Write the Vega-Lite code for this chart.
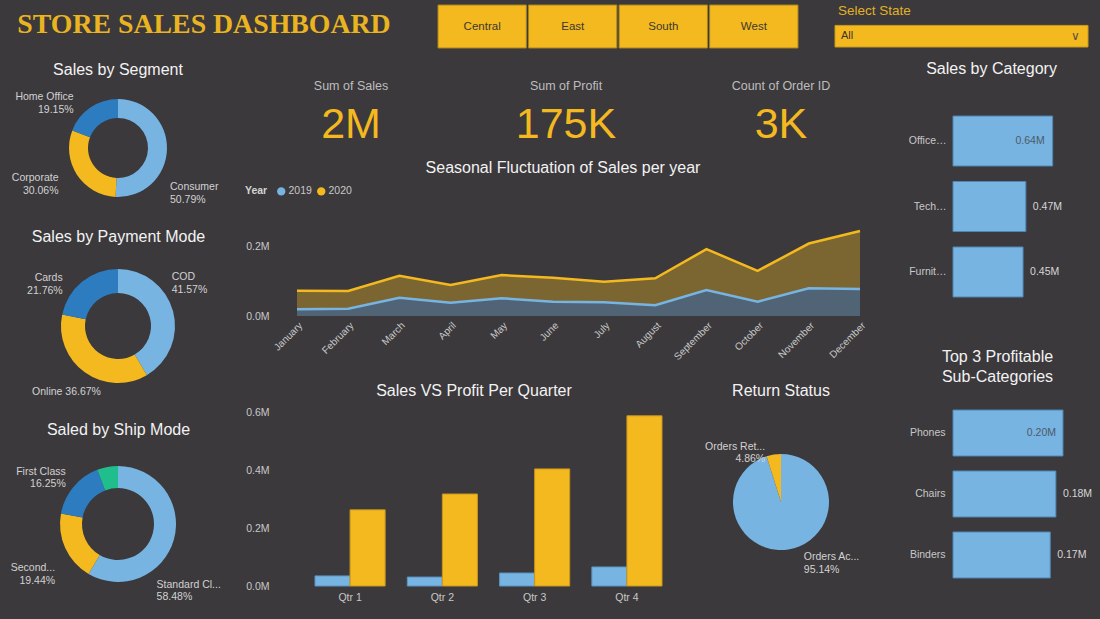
{
  "$schema": "https://vega.github.io/schema/vega-lite/v6.json",
  "width": 1100,
  "height": 619,
  "padding": 0,
  "autosize": {"type": "none"},
  "background": "#3b393c",
  "config": {
    "view": {"stroke": null},
    "font": "Liberation Sans",
    "axis": {"domain": false, "ticks": false, "grid": false, "labelColor": "#c8c8c8", "labelFont": "Liberation Sans", "labelFontSize": 10.5}
  },
  "resolve": {
    "scale": {"x": "independent", "y": "independent", "color": "independent", "theta": "independent", "xOffset": "independent", "stroke": "independent"},
    "axis": {"x": "independent", "y": "independent"},
    "legend": {"color": "independent"}
  },
  "layer": [
    {
      "data": {"values": [{"title": "STORE SALES DASHBOARD"}]},
      "mark": {"type": "text", "font": "Liberation Serif", "fontWeight": "bold", "fontSize": 27.8, "color": "#eab420", "baseline": "middle"},
      "encoding": {
        "x": {"field": "title", "type": "nominal", "scale": {"type": "point", "range": [0, 408]}, "axis": null},
        "y": {"field": "title", "type": "nominal", "scale": {"type": "point", "range": [25, 25]}, "axis": null},
        "text": {"field": "title"}
      }
    },
    {
      "data": {"values": [{"region": "Central"}, {"region": "East"}, {"region": "South"}, {"region": "West"}]},
      "encoding": {
        "x": {"field": "region", "type": "nominal", "sort": null, "scale": {"type": "band", "range": [438, 798], "paddingInner": 0.025, "paddingOuter": 0}, "axis": null},
        "y": {"datum": "Region", "type": "nominal", "scale": {"type": "band", "range": [5, 48], "paddingInner": 0, "paddingOuter": 0}, "axis": null}
      },
      "layer": [
        {"mark": {"type": "rect", "color": "#f4b91f", "stroke": "#a8841c", "strokeWidth": 1}, "encoding": {}},
        {"mark": {"type": "text", "color": "#3c382f", "fontSize": 11.5, "baseline": "middle"}, "encoding": {"text": {"field": "region"}}}
      ]
    },
    {
      "data": {"values": [{"label": "Select State", "choice": "All"}]},
      "encoding": {
        "x": {"datum": "State", "type": "nominal", "scale": {"type": "band", "range": [835, 1088], "paddingInner": 0, "paddingOuter": 0}, "axis": null}
      },
      "layer": [
        {
          "mark": {"type": "rect", "color": "#f4b91f", "stroke": "#c99a1c", "strokeWidth": 1},
          "encoding": {"y": {"datum": "All", "type": "nominal", "scale": {"type": "band", "domain": ["Select State", "All"], "range": [0, 47], "paddingInner": 0.15, "paddingOuter": 0}, "axis": null}}
        },
        {
          "mark": {"type": "text", "align": "left", "baseline": "middle", "dx": 3, "fontSize": 13.5, "color": "#e2b125"},
          "encoding": {"x": {"datum": "State", "type": "nominal", "bandPosition": 0}, "y": {"datum": "Select State", "type": "nominal"}, "text": {"field": "label"}}
        },
        {
          "mark": {"type": "text", "align": "left", "baseline": "middle", "dx": 6, "fontSize": 11, "color": "#3a3630"},
          "encoding": {"x": {"datum": "State", "type": "nominal", "bandPosition": 0}, "y": {"datum": "All", "type": "nominal"}, "text": {"field": "choice"}}
        },
        {
          "mark": {"type": "text", "align": "right", "baseline": "middle", "dx": -8, "fontSize": 12, "color": "#5a5240"},
          "encoding": {"x": {"datum": "State", "type": "nominal", "bandPosition": 1}, "y": {"datum": "All", "type": "nominal"}, "text": {"value": "∨"}}
        }
      ]
    },
    {
      "data": {"values": [
        {"metric": "Sum of Sales", "shown": "2M"},
        {"metric": "Sum of Profit", "shown": "175K"},
        {"metric": "Count of Order ID", "shown": "3K"}
      ]},
      "encoding": {
        "x": {"field": "metric", "type": "nominal", "sort": null, "scale": {"type": "point", "range": [351, 781], "padding": 0}, "axis": null}
      },
      "layer": [
        {
          "mark": {"type": "text", "fontSize": 12.5, "color": "#bdbdbd", "baseline": "middle"},
          "encoding": {
            "y": {"datum": "label", "type": "nominal", "scale": {"type": "point", "domain": ["label", "value"], "range": [86, 125], "padding": 0}, "axis": null},
            "text": {"field": "metric"}
          }
        },
        {
          "mark": {"type": "text", "font": "Liberation Sans", "fontSize": 43, "color": "#f4b91f", "baseline": "middle"},
          "encoding": {"y": {"datum": "value", "type": "nominal"}, "text": {"field": "shown"}}
        }
      ]
    },
    {
      "data": {"values": [
        {"month": "January", "year": "2019", "sales": 19000}, {"month": "January", "year": "2020", "sales": 53300},
        {"month": "February", "year": "2019", "sales": 21000}, {"month": "February", "year": "2020", "sales": 50400},
        {"month": "March", "year": "2019", "sales": 52000}, {"month": "March", "year": "2020", "sales": 63000},
        {"month": "April", "year": "2019", "sales": 38000}, {"month": "April", "year": "2020", "sales": 50600},
        {"month": "May", "year": "2019", "sales": 50500}, {"month": "May", "year": "2020", "sales": 66500},
        {"month": "June", "year": "2019", "sales": 41000}, {"month": "June", "year": "2020", "sales": 68000},
        {"month": "July", "year": "2019", "sales": 39000}, {"month": "July", "year": "2020", "sales": 59000},
        {"month": "August", "year": "2019", "sales": 31000}, {"month": "August", "year": "2020", "sales": 76600},
        {"month": "September", "year": "2019", "sales": 74000}, {"month": "September", "year": "2020", "sales": 117000},
        {"month": "October", "year": "2019", "sales": 41000}, {"month": "October", "year": "2020", "sales": 88000},
        {"month": "November", "year": "2019", "sales": 79000}, {"month": "November", "year": "2020", "sales": 128000},
        {"month": "December", "year": "2019", "sales": 77000}, {"month": "December", "year": "2020", "sales": 166000}
      ]},
      "mark": {"type": "area", "fillOpacity": 0.35, "line": {"strokeWidth": 2.5}},
      "encoding": {
        "x": {
          "field": "month", "type": "ordinal",
          "sort": ["January", "February", "March", "April", "May", "June", "July", "August", "September", "October", "November", "December"],
          "scale": {"type": "point", "range": [297, 860], "padding": 0},
          "axis": {"orient": "bottom", "offset": -303, "labelAngle": -45, "labelPadding": 4, "labelFontSize": 10, "title": null}
        },
        "y": {
          "field": "sales", "type": "quantitative", "stack": "zero",
          "scale": {"domain": [0, 300000], "range": [316, 211], "nice": false},
          "axis": {"orient": "left", "offset": -297, "values": [0, 200000], "labelExpr": "format(datum.value / 1000000, '.1f') + 'M'", "labelPadding": 28, "title": null}
        },
        "color": {
          "field": "year", "type": "nominal",
          "scale": {"domain": ["2019", "2020"], "range": ["#77b4e2", "#f4b91f"]},
          "legend": {
            "orient": "none", "legendX": 245, "legendY": 186, "direction": "horizontal",
            "title": "Year", "titleOrient": "left", "titleFontWeight": "bold", "titleColor": "#d4d4d4", "titleFontSize": 10.5, "titlePadding": 8,
            "labelColor": "#c8c8c8", "labelFontSize": 10.5, "labelOffset": 2, "columnPadding": 4,
            "symbolType": "circle", "symbolSize": 70, "symbolOpacity": 1, "symbolStrokeWidth": 0
          }
        },
        "order": {"field": "year", "type": "nominal", "sort": "ascending"}
      }
    },
    {
      "data": {"values": [
        {"quarter": "Qtr 1", "measure": "Profit", "amount": 35000}, {"quarter": "Qtr 1", "measure": "Sales", "amount": 264000},
        {"quarter": "Qtr 2", "measure": "Profit", "amount": 31000}, {"quarter": "Qtr 2", "measure": "Sales", "amount": 319000},
        {"quarter": "Qtr 3", "measure": "Profit", "amount": 45000}, {"quarter": "Qtr 3", "measure": "Sales", "amount": 406000},
        {"quarter": "Qtr 4", "measure": "Profit", "amount": 66000}, {"quarter": "Qtr 4", "measure": "Sales", "amount": 590000}
      ]},
      "mark": {"type": "bar", "strokeWidth": 1},
      "encoding": {
        "x": {
          "field": "quarter", "type": "nominal", "sort": null,
          "scale": {"type": "band", "range": [297, 680], "paddingInner": 0.24, "paddingOuter": 0.195},
          "axis": {"orient": "bottom", "offset": -33, "labelPadding": 6, "labelAngle": 0, "title": null}
        },
        "xOffset": {"field": "measure", "type": "nominal", "sort": ["Profit", "Sales"]},
        "y": {
          "field": "amount", "type": "quantitative",
          "scale": {"domain": [0, 631000], "range": [586, 404], "nice": false},
          "axis": {"orient": "left", "offset": -297, "values": [0, 200000, 400000, 600000], "labelExpr": "format(datum.value / 1000000, '.1f') + 'M'", "labelPadding": 28, "title": null}
        },
        "color": {"field": "measure", "type": "nominal", "scale": {"domain": ["Profit", "Sales"], "range": ["#77b4e2", "#f4b91f"]}, "legend": null},
        "stroke": {"field": "measure", "type": "nominal", "scale": {"domain": ["Profit", "Sales"], "range": ["#5a93c4", "#c9951a"]}, "legend": null}
      }
    },
    {
      "data": {"values": [{"status": "Orders Accepted", "share": 95.14}, {"status": "Orders Returned", "share": 4.86}]},
      "transform": [{"calculate": "datum.status + '\\n' + format(datum.share, '.2f') + '%'", "as": "label"}],
      "encoding": {
        "x": {"datum": "Returns", "type": "nominal", "scale": {"type": "point", "range": [721, 841]}, "axis": null},
        "y": {"datum": "Returns", "type": "nominal", "scale": {"type": "point", "range": [404, 600]}, "axis": null},
        "theta": {"field": "share", "type": "quantitative", "stack": true},
        "order": {"field": "share", "type": "quantitative", "sort": "descending"}
      },
      "layer": [
        {"mark": {"type": "arc", "outerRadius": 48}, "encoding": {"color": {"field": "status", "type": "nominal", "scale": {"domain": ["Orders Accepted", "Orders Returned"], "range": ["#77b4e2", "#f4b91f"]}, "legend": null}}},
        {"mark": {"type": "text", "radius": 58, "align": "left", "baseline": "middle", "dx": 14, "dy": -2, "fontSize": 10.5, "color": "#d2d2d2", "lineBreak": "\n", "limit": 58, "ellipsis": "..."},
         "encoding": {"detail": {"field": "status"}, "text": {"condition": {"test": "datum.status === 'Orders Accepted'", "field": "label"}, "value": ""}}},
        {"mark": {"type": "text", "radius": 58, "align": "right", "baseline": "middle", "dx": -7, "dy": 2, "fontSize": 10.5, "color": "#d2d2d2", "lineBreak": "\n", "limit": 62, "ellipsis": "..."},
         "encoding": {"detail": {"field": "status"}, "text": {"condition": {"test": "datum.status === 'Orders Returned'", "field": "label"}, "value": ""}}}
      ]
    },
    {
      "data": {"values": [{"segment": "Consumer", "share": 50.79}, {"segment": "Corporate", "share": 30.06}, {"segment": "Home Office", "share": 19.15}]},
      "transform": [{"calculate": "datum.segment + '\\n' + format(datum.share, '.2f') + '%'", "as": "label"}],
      "encoding": {
        "x": {"datum": "Segment", "type": "nominal", "scale": {"type": "point", "range": [0, 236]}, "axis": null},
        "y": {"datum": "Segment", "type": "nominal", "scale": {"type": "point", "range": [80, 216]}, "axis": null},
        "theta": {"field": "share", "type": "quantitative", "stack": true},
        "order": {"field": "share", "type": "quantitative", "sort": "descending"}
      },
      "layer": [
        {"mark": {"type": "arc", "innerRadius": 30, "outerRadius": 49}, "encoding": {"color": {"field": "segment", "type": "nominal", "scale": {"domain": ["Consumer", "Corporate", "Home Office"], "range": ["#77b4e2", "#f4b91f", "#2d7cc0"]}, "legend": null}}},
        {"mark": {"type": "text", "radius": 59, "align": "left", "baseline": "middle", "dx": -7, "dy": 38, "fontSize": 10.5, "color": "#d2d2d2", "lineBreak": "\n"},
         "encoding": {"detail": {"field": "segment"}, "text": {"condition": {"test": "datum.segment === 'Consumer'", "field": "label"}, "value": ""}}},
        {"mark": {"type": "text", "radius": 59, "align": "right", "baseline": "middle", "dx": -10, "dy": -2, "fontSize": 10.5, "color": "#d2d2d2", "lineBreak": "\n"},
         "encoding": {"detail": {"field": "segment"}, "text": {"condition": {"test": "datum.segment === 'Corporate'", "field": "label"}, "value": ""}}},
        {"mark": {"type": "text", "radius": 59, "align": "right", "baseline": "middle", "dx": -11, "dy": -2, "fontSize": 10.5, "color": "#d2d2d2", "lineBreak": "\n"},
         "encoding": {"detail": {"field": "segment"}, "text": {"condition": {"test": "datum.segment === 'Home Office'", "field": "label"}, "value": ""}}}
      ]
    },
    {
      "data": {"values": [{"mode": "COD", "share": 41.57}, {"mode": "Online", "share": 36.67}, {"mode": "Cards", "share": 21.76}]},
      "transform": [
        {"calculate": "datum.mode + '\\n' + format(datum.share, '.2f') + '%'", "as": "label"},
        {"calculate": "datum.mode + ' ' + format(datum.share, '.2f') + '%'", "as": "inline"}
      ],
      "encoding": {
        "x": {"datum": "Payment", "type": "nominal", "scale": {"type": "point", "range": [0, 236]}, "axis": null},
        "y": {"datum": "Payment", "type": "nominal", "scale": {"type": "point", "range": [247, 405]}, "axis": null},
        "theta": {"field": "share", "type": "quantitative", "stack": true},
        "order": {"field": "share", "type": "quantitative", "sort": "descending"}
      },
      "layer": [
        {"mark": {"type": "arc", "innerRadius": 33, "outerRadius": 57}, "encoding": {"color": {"field": "mode", "type": "nominal", "scale": {"domain": ["COD", "Online", "Cards"], "range": ["#77b4e2", "#f4b91f", "#2d7cc0"]}, "legend": null}}},
        {"mark": {"type": "text", "radius": 67, "align": "left", "baseline": "middle", "dx": -11, "dy": -31, "fontSize": 10.5, "color": "#d2d2d2", "lineBreak": "\n"},
         "encoding": {"detail": {"field": "mode"}, "text": {"condition": {"test": "datum.mode === 'COD'", "field": "label"}, "value": ""}}},
        {"mark": {"type": "text", "radius": 67, "align": "right", "baseline": "middle", "dx": 22, "dy": 12, "fontSize": 10.5, "color": "#d2d2d2"},
         "encoding": {"detail": {"field": "mode"}, "text": {"condition": {"test": "datum.mode === 'Online'", "field": "inline"}, "value": ""}}},
        {"mark": {"type": "text", "radius": 67, "align": "right", "baseline": "middle", "dx": -13, "dy": 4, "fontSize": 10.5, "color": "#d2d2d2", "lineBreak": "\n"},
         "encoding": {"detail": {"field": "mode"}, "text": {"condition": {"test": "datum.mode === 'Cards'", "field": "label"}, "value": ""}}}
      ]
    },
    {
      "data": {"values": [{"ship": "Standard Class", "share": 58.48}, {"ship": "Second Class", "share": 19.44}, {"ship": "First Class", "share": 16.25}, {"ship": "Same Day", "share": 5.83}]},
      "transform": [{"calculate": "datum.ship + '\\n' + format(datum.share, '.2f') + '%'", "as": "label"}],
      "encoding": {
        "x": {"datum": "Ship", "type": "nominal", "scale": {"type": "point", "range": [0, 236]}, "axis": null},
        "y": {"datum": "Ship", "type": "nominal", "scale": {"type": "point", "range": [441, 607]}, "axis": null},
        "theta": {"field": "share", "type": "quantitative", "stack": true},
        "order": {"field": "share", "type": "quantitative", "sort": "descending"}
      },
      "layer": [
        {"mark": {"type": "arc", "innerRadius": 36, "outerRadius": 58}, "encoding": {"color": {"field": "ship", "type": "nominal", "scale": {"domain": ["Standard Class", "Second Class", "First Class", "Same Day"], "range": ["#77b4e2", "#f4b91f", "#2d7cc0", "#20be8d"]}, "legend": null}}},
        {"mark": {"type": "text", "radius": 68, "align": "left", "baseline": "middle", "dx": -27, "dy": 43, "fontSize": 10.5, "color": "#d2d2d2", "lineBreak": "\n", "limit": 66, "ellipsis": "..."},
         "encoding": {"detail": {"field": "ship"}, "text": {"condition": {"test": "datum.ship === 'Standard Class'", "field": "label"}, "value": ""}}},
        {"mark": {"type": "text", "radius": 68, "align": "right", "baseline": "middle", "dx": -1, "dy": 16, "fontSize": 10.5, "color": "#d2d2d2", "lineBreak": "\n", "limit": 46, "ellipsis": "..."},
         "encoding": {"detail": {"field": "ship"}, "text": {"condition": {"test": "datum.ship === 'Second Class'", "field": "label"}, "value": ""}}},
        {"mark": {"type": "text", "radius": 68, "align": "right", "baseline": "middle", "dx": 0, "dy": -9, "fontSize": 10.5, "color": "#d2d2d2", "lineBreak": "\n"},
         "encoding": {"detail": {"field": "ship"}, "text": {"condition": {"test": "datum.ship === 'First Class'", "field": "label"}, "value": ""}}}
      ]
    },
    {
      "data": {"values": [{"category": "Office Supplies", "sales": 643000}, {"category": "Technology", "sales": 470000}, {"category": "Furniture", "sales": 452000}]},
      "transform": [{"calculate": "format(datum.sales / 1000000, '.2f') + 'M'", "as": "label"}],
      "encoding": {
        "y": {
          "field": "category", "type": "nominal", "sort": null,
          "scale": {"type": "band", "range": [80, 333], "paddingInner": 0.237, "paddingOuter": 0.55},
          "axis": {"orient": "left", "offset": -953, "labelLimit": 38, "labelPadding": 7, "title": null}
        },
        "x": {"field": "sales", "type": "quantitative", "scale": {"domain": [0, 800000], "range": [953, 1077], "nice": false}, "axis": null}
      },
      "layer": [
        {"mark": {"type": "bar", "color": "#77b4e2", "stroke": "#4f86b5", "strokeWidth": 1}, "encoding": {}},
        {"transform": [{"filter": "datum.sales > 600000"}], "mark": {"type": "text", "align": "right", "baseline": "middle", "dx": -8, "fontSize": 10.5, "color": "#4d5a66"}, "encoding": {"text": {"field": "label"}}},
        {"transform": [{"filter": "datum.sales <= 600000"}], "mark": {"type": "text", "align": "left", "baseline": "middle", "dx": 7, "fontSize": 10.5, "color": "#d6d6d6"}, "encoding": {"text": {"field": "label"}}}
      ]
    },
    {
      "data": {"values": [{"subcategory": "Phones", "profit": 197000}, {"subcategory": "Chairs", "profit": 184300}, {"subcategory": "Binders", "profit": 174200}]},
      "transform": [{"calculate": "format(datum.profit / 1000000, '.2f') + 'M'", "as": "label"}],
      "encoding": {
        "y": {
          "field": "subcategory", "type": "nominal", "sort": null,
          "scale": {"type": "band", "range": [378, 610], "paddingInner": 0.246, "paddingOuter": 0.525},
          "axis": {"orient": "left", "offset": -953, "labelLimit": 60, "labelPadding": 8, "title": null}
        },
        "x": {"field": "profit", "type": "quantitative", "scale": {"domain": [0, 240000], "range": [953, 1087], "nice": false}, "axis": null}
      },
      "layer": [
        {"mark": {"type": "bar", "color": "#77b4e2", "stroke": "#4f86b5", "strokeWidth": 1}, "encoding": {}},
        {"transform": [{"filter": "datum.profit > 190000"}], "mark": {"type": "text", "align": "right", "baseline": "middle", "dx": -7, "fontSize": 10.5, "color": "#4d5a66"}, "encoding": {"text": {"field": "label"}}},
        {"transform": [{"filter": "datum.profit <= 190000"}], "mark": {"type": "text", "align": "left", "baseline": "middle", "dx": 7, "fontSize": 10.5, "color": "#d6d6d6"}, "encoding": {"text": {"field": "label"}}}
      ]
    },
    {
      "data": {"values": [{"title": "Sales by Segment"}]},
      "mark": {"type": "text", "fontSize": 16, "color": "#f2f2f2", "baseline": "middle"},
      "encoding": {
        "x": {"field": "title", "type": "nominal", "scale": {"type": "point", "range": [0, 236]}, "axis": null},
        "y": {"field": "title", "type": "nominal", "scale": {"type": "point", "range": [70, 70]}, "axis": null},
        "text": {"field": "title"}
      }
    },
    {
      "data": {"values": [{"title": "Sales by Payment Mode"}]},
      "mark": {"type": "text", "fontSize": 16, "color": "#f2f2f2", "baseline": "middle"},
      "encoding": {
        "x": {"field": "title", "type": "nominal", "scale": {"type": "point", "range": [0, 237]}, "axis": null},
        "y": {"field": "title", "type": "nominal", "scale": {"type": "point", "range": [237, 237]}, "axis": null},
        "text": {"field": "title"}
      }
    },
    {
      "data": {"values": [{"title": "Saled by Ship Mode"}]},
      "mark": {"type": "text", "fontSize": 16, "color": "#f2f2f2", "baseline": "middle"},
      "encoding": {
        "x": {"field": "title", "type": "nominal", "scale": {"type": "point", "range": [0, 237]}, "axis": null},
        "y": {"field": "title", "type": "nominal", "scale": {"type": "point", "range": [430, 430]}, "axis": null},
        "text": {"field": "title"}
      }
    },
    {
      "data": {"values": [{"title": "Seasonal Fluctuation of Sales per year"}]},
      "mark": {"type": "text", "fontSize": 16, "color": "#f2f2f2", "baseline": "middle"},
      "encoding": {
        "x": {"field": "title", "type": "nominal", "scale": {"type": "point", "range": [266, 860]}, "axis": null},
        "y": {"field": "title", "type": "nominal", "scale": {"type": "point", "range": [168, 168]}, "axis": null},
        "text": {"field": "title"}
      }
    },
    {
      "data": {"values": [{"title": "Sales VS Profit Per Quarter"}]},
      "mark": {"type": "text", "fontSize": 16, "color": "#f2f2f2", "baseline": "middle"},
      "encoding": {
        "x": {"field": "title", "type": "nominal", "scale": {"type": "point", "range": [268, 680]}, "axis": null},
        "y": {"field": "title", "type": "nominal", "scale": {"type": "point", "range": [391, 391]}, "axis": null},
        "text": {"field": "title"}
      }
    },
    {
      "data": {"values": [{"title": "Return Status"}]},
      "mark": {"type": "text", "fontSize": 16, "color": "#f2f2f2", "baseline": "middle"},
      "encoding": {
        "x": {"field": "title", "type": "nominal", "scale": {"type": "point", "range": [721, 841]}, "axis": null},
        "y": {"field": "title", "type": "nominal", "scale": {"type": "point", "range": [391, 391]}, "axis": null},
        "text": {"field": "title"}
      }
    },
    {
      "data": {"values": [{"title": "Sales by Category"}]},
      "mark": {"type": "text", "fontSize": 16, "color": "#f2f2f2", "baseline": "middle"},
      "encoding": {
        "x": {"field": "title", "type": "nominal", "scale": {"type": "point", "range": [906, 1077]}, "axis": null},
        "y": {"field": "title", "type": "nominal", "scale": {"type": "point", "range": [69, 69]}, "axis": null},
        "text": {"field": "title"}
      }
    },
    {
      "data": {"values": [{"title": "Top 3 Profitable\nSub-Categories"}]},
      "mark": {"type": "text", "fontSize": 16, "color": "#f2f2f2", "baseline": "middle", "lineBreak": "\n", "lineHeight": 20},
      "encoding": {
        "x": {"field": "title", "type": "nominal", "scale": {"type": "point", "range": [908, 1087]}, "axis": null},
        "y": {"field": "title", "type": "nominal", "scale": {"type": "point", "range": [357, 357]}, "axis": null},
        "text": {"field": "title"}
      }
    }
  ]
}
